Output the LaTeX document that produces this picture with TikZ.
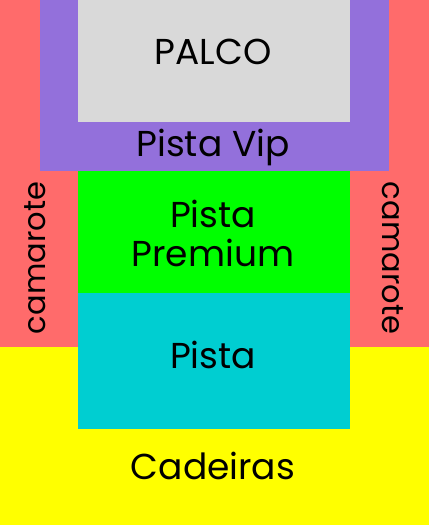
\documentclass[tikz,border=0pt]{standalone}
\usepackage{fontspec}
\setmainfont{Poppins}
\definecolor{cred}{RGB}{255,107,107}
\definecolor{cpurple}{RGB}{147,112,219}
\definecolor{cgray}{RGB}{217,217,217}
\definecolor{cgreen}{RGB}{0,255,0}
\definecolor{ccyan}{RGB}{0,206,209}
\definecolor{cyellow}{RGB}{255,255,0}
\begin{document}
\begin{tikzpicture}[x=1pt,y=-1pt,
  lbl/.style={font=\fontsize{36}{40}\selectfont, text=black, align=center, inner sep=0pt},
  side/.style={font=\fontsize{30.5}{34}\selectfont, text=black, inner sep=0pt}]
\useasboundingbox (0,0) rectangle (429,525);
\fill[cyellow] (0,0) rectangle (429,525);
\fill[cred] (0,0) rectangle (429,347);
\fill[cpurple] (40,0) rectangle (389,171);
\fill[cgray] (78,0) rectangle (350,122);
\fill[cgreen] (78,171) rectangle (350,293);
\fill[ccyan] (78,293) rectangle (350,429);
\node[lbl] (palco) at (213,52) {PALCO};
\node[lbl] (vip) at (213,147) {Pista Vip};
\node[lbl] (premium) at (213,233) {Pista\\[-1pt]Premium};
\node[lbl] (pista) at (213,355) {Pista};
\node[lbl] (cad) at (213,466) {Cadeiras};
\node[side, rotate=90] (camL) at (35,258) {camarote};
\node[side, rotate=-90] (camR) at (393,258) {camarote};
\end{tikzpicture}
\end{document}
